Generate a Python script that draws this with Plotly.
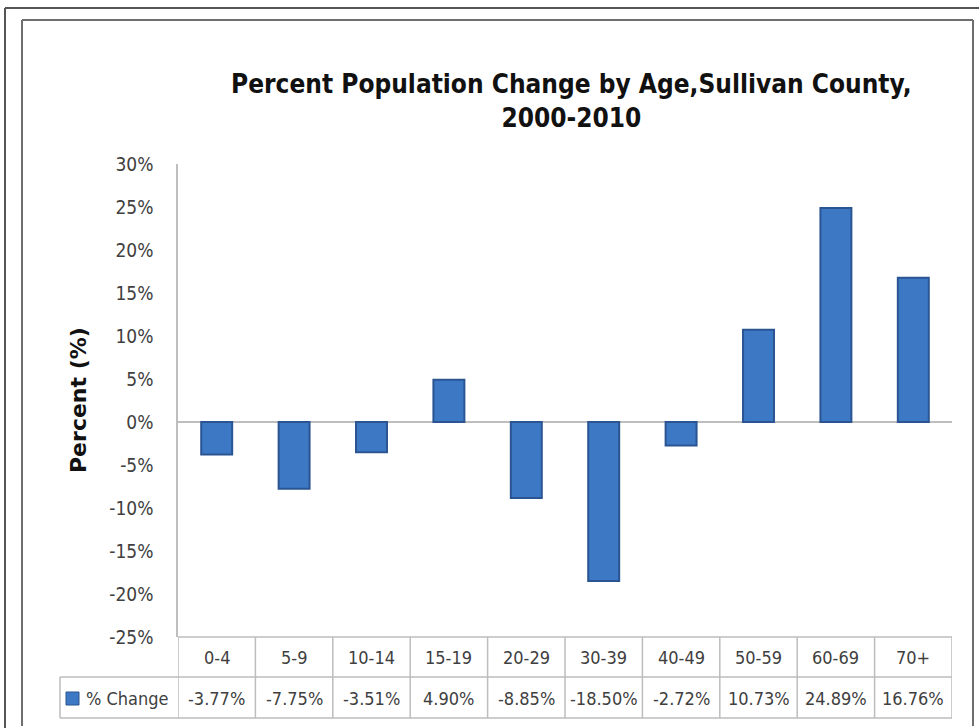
import plotly.graph_objects as go

categories = ["0-4", "5-9", "10-14", "15-19", "20-29", "30-39", "40-49", "50-59", "60-69", "70+"]
pct_change = [-3.77, -7.75, -3.51, 4.90, -8.85, -18.50, -2.72, 10.73, 24.89, 16.76]
value_labels = ["-3.77%", "-7.75%", "-3.51%", "4.90%", "-8.85%", "-18.50%", "-2.72%", "10.73%", "24.89%", "16.76%"]
y_ticks = [30, 25, 20, 15, 10, 5, 0, -5, -10, -15, -20, -25]
y_tick_text = ["30%", "25%", "20%", "15%", "10%", "5%", "0%", "-5%", "-10%", "-15%", "-20%", "-25%"]
series_name = "% Change"
title_text = "Percent Population Change by Age,Sullivan County,<br>2000-2010"
y_title = "Percent (%)"

W, H = 979, 728
L, R, T, B = 178, 27, 164, 91
PW, PH = W - L - R, H - T - B

def px(x):
    return (x - L) / PW

def py(y):
    return (H - B - y) / PH

NARROW = "Liberation Sans Narrow, DejaVu Sans Condensed, Arial Narrow, sans-serif"
TXT = "#404040"
BAR = "#3D78C4"
BAR_EDGE = "#2A5592"

fig = go.Figure()
fig.add_trace(go.Bar(
    x=list(range(len(categories))), y=pct_change, name=series_name,
    marker=dict(color=BAR, line=dict(color=BAR_EDGE, width=2)),
    showlegend=False,
))

fig.update_layout(
    width=W, height=H,
    margin=dict(l=L, r=R, t=T, b=B),
    paper_bgcolor="white", plot_bgcolor="white",
    bargap=0.6,
    font=dict(family=NARROW, color=TXT),
    xaxis=dict(range=[-0.5, len(categories) - 0.5], showticklabels=False,
               showgrid=False, zeroline=False, showline=False, ticks=""),
    yaxis=dict(range=[-25, 30], tickvals=y_ticks, ticktext=y_tick_text,
               showgrid=False, zeroline=True, zerolinecolor="#BEBEBE", zerolinewidth=1.5,
               showline=True, linecolor="#BEBEBE", linewidth=1.5, ticks="",
               ticklabelstandoff=19, tickfont=dict(size=19, color=TXT, family=NARROW)),
)

shapes = []
ann = []

ann.append(dict(text="<b>" + title_text + "</b>", xref="paper", yref="paper",
                x=px(571), y=py(101), xanchor="center", yanchor="middle", showarrow=False,
                font=dict(size=26, color="#111111", family=NARROW)))
ann.append(dict(text="<b>" + y_title + "</b>", xref="paper", yref="paper",
                x=px(78), y=py(400), xanchor="center", yanchor="middle", textangle=-90,
                showarrow=False, font=dict(size=22, color="#111111", family="DejaVu Sans, sans-serif")))

gridc = "#BDBDBD"
row1_top, row1_bot, row2_bot = 637, 677, 718
shapes.append(dict(type="line", xref="paper", yref="paper", x0=0, x1=1, y0=py(row1_top), y1=py(row1_top),
                   line=dict(color=gridc, width=1.5)))
shapes.append(dict(type="line", xref="paper", yref="paper", x0=px(60), x1=1, y0=py(row1_bot), y1=py(row1_bot),
                   line=dict(color=gridc, width=1.5)))
shapes.append(dict(type="line", xref="paper", yref="paper", x0=px(60), x1=1, y0=py(row2_bot), y1=py(row2_bot),
                   line=dict(color=gridc, width=1.5)))
shapes.append(dict(type="line", xref="paper", yref="paper", x0=px(60), x1=px(60), y0=py(row1_bot), y1=py(row2_bot),
                   line=dict(color=gridc, width=1.5)))
for i in range(len(categories) + 1):
    shapes.append(dict(type="line", xref="x", yref="paper", x0=i - 0.5, x1=i - 0.5,
                       y0=py(row1_top), y1=py(row2_bot), line=dict(color=gridc, width=1.5)))
for i, (c, v) in enumerate(zip(categories, value_labels)):
    ann.append(dict(text=c, xref="x", yref="paper", x=i, y=py(657), showarrow=False,
                    xanchor="center", yanchor="middle", font=dict(size=18, color=TXT, family=NARROW)))
    ann.append(dict(text=v, xref="x", yref="paper", x=i, y=py(698), showarrow=False,
                    xanchor="center", yanchor="middle", font=dict(size=18, color=TXT, family=NARROW)))
shapes.append(dict(type="rect", xref="paper", yref="paper", x0=px(66), x1=px(79), y0=py(705), y1=py(692),
                   fillcolor=BAR, line=dict(color=BAR_EDGE, width=1)))
ann.append(dict(text=series_name, xref="paper", yref="paper", x=px(84), y=py(698), showarrow=False,
                xanchor="left", yanchor="middle", font=dict(size=18, color=TXT, family=NARROW)))

frame = dict(color="#555555", width=2)
shapes.append(dict(type="line", xref="paper", yref="paper", x0=px(5), x1=px(979), y0=py(8), y1=py(8), line=frame))
shapes.append(dict(type="line", xref="paper", yref="paper", x0=px(5), x1=px(5), y0=py(8), y1=py(728), line=frame))
frame2 = dict(color="#6E6E6E", width=2)
shapes.append(dict(type="line", xref="paper", yref="paper", x0=px(22), x1=px(973), y0=py(20), y1=py(20), line=frame2))
shapes.append(dict(type="line", xref="paper", yref="paper", x0=px(22), x1=px(22), y0=py(20), y1=py(726), line=frame2))
shapes.append(dict(type="line", xref="paper", yref="paper", x0=px(973), x1=px(973), y0=py(20), y1=py(726), line=frame2))

fig.update_layout(shapes=shapes, annotations=ann)
fig.write_html("out.html", config={"displayModeBar": False},
               post_script="document.body.style.margin='0';")
